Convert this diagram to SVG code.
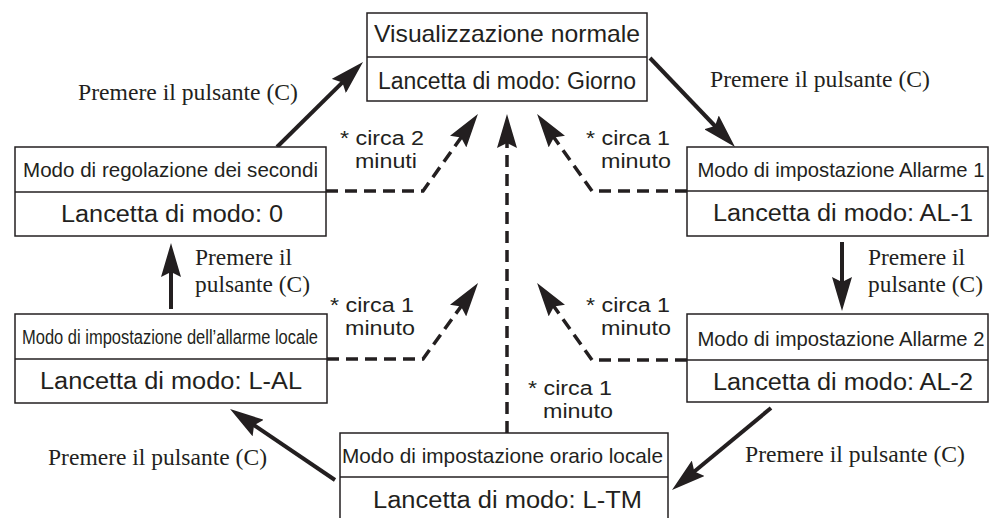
<svg xmlns="http://www.w3.org/2000/svg" width="995" height="518" viewBox="0 0 995 518">
<style>
.box{fill:#fff;stroke:#231f20;stroke-width:1.5}
.div{stroke:#231f20;stroke-width:1.5}
.t{font-family:"Liberation Sans",Arial,sans-serif;fill:#231f20;text-anchor:middle}
.big{font-size:24px}
.lan{font-size:23px}
.mode{font-size:21px}
.lbl{font-family:"Liberation Sans",Arial,sans-serif;font-size:20px;fill:#231f20}
.ser{font-family:"Liberation Serif","Times New Roman",serif;font-size:23px;fill:#231f20}
.solid{fill:none;stroke:#231f20;stroke-width:4;marker-end:url(#ah)}
.dash{fill:none;stroke:#231f20;stroke-width:3.5;stroke-dasharray:12 7;marker-end:url(#ah)}
</style>
<defs>
<marker id="ah" viewBox="0 0 34 20" markerWidth="34" markerHeight="20" refX="14" refY="10" orient="auto" markerUnits="userSpaceOnUse">
<path d="M0,0 L34,10 L0,20 L5,10 z" fill="#231f20"/>
</marker>
</defs>
<rect width="995" height="518" fill="#fff"/>

<g id="connectors">
<path class="solid" d="M277,147 L348.8,76.1"/>
<path class="solid" d="M650,58 L721.2,132.5"/>
<path class="solid" d="M842,242 V291"/>
<path class="solid" d="M171,309 V263"/>
<path class="solid" d="M771,408 L687.4,477.2"/>
<path class="solid" d="M335,480 L246.6,420.2"/>
<path class="dash" d="M326,191 H423 L466.3,130.2"/>
<path class="dash" d="M687,191 H592 L548.7,130.2"/>
<path class="dash" d="M507,433 V134"/>
<path class="dash" d="M327,359 H423 L466.3,299.2"/>
<path class="dash" d="M687,360 H592 L548.7,299.2"/>
</g>

<g id="labels">
<text class="ser" x="78" y="100" textLength="220" lengthAdjust="spacingAndGlyphs">Premere il pulsante (C)</text>
<text class="ser" x="710" y="87" textLength="220" lengthAdjust="spacingAndGlyphs">Premere il pulsante (C)</text>
<text class="ser" x="195" y="265" textLength="97" lengthAdjust="spacingAndGlyphs">Premere il</text>
<text class="ser" x="195" y="292" textLength="115" lengthAdjust="spacingAndGlyphs">pulsante (C)</text>
<text class="ser" x="868" y="265" textLength="97" lengthAdjust="spacingAndGlyphs">Premere il</text>
<text class="ser" x="868" y="292" textLength="115" lengthAdjust="spacingAndGlyphs">pulsante (C)</text>
<text class="ser" x="48" y="465" textLength="219" lengthAdjust="spacingAndGlyphs">Premere il pulsante (C)</text>
<text class="ser" x="745" y="462" textLength="220" lengthAdjust="spacingAndGlyphs">Premere il pulsante (C)</text>
<text class="lbl" x="340" y="145" textLength="84" lengthAdjust="spacingAndGlyphs">* circa 2</text>
<text class="lbl" x="355" y="168" textLength="62" lengthAdjust="spacingAndGlyphs">minuti</text>
<text class="lbl" x="586" y="145" textLength="84" lengthAdjust="spacingAndGlyphs">* circa 1</text>
<text class="lbl" x="601" y="168" textLength="70" lengthAdjust="spacingAndGlyphs">minuto</text>
<text class="lbl" x="330" y="312" textLength="84" lengthAdjust="spacingAndGlyphs">* circa 1</text>
<text class="lbl" x="345" y="335" textLength="70" lengthAdjust="spacingAndGlyphs">minuto</text>
<text class="lbl" x="586" y="312" textLength="84" lengthAdjust="spacingAndGlyphs">* circa 1</text>
<text class="lbl" x="601" y="335" textLength="70" lengthAdjust="spacingAndGlyphs">minuto</text>
<text class="lbl" x="528" y="395" textLength="84" lengthAdjust="spacingAndGlyphs">* circa 1</text>
<text class="lbl" x="543" y="418" textLength="70" lengthAdjust="spacingAndGlyphs">minuto</text>
</g>

<g id="node-normale">
<rect class="box" x="367" y="13" width="280" height="88"/>
<line class="div" x1="367" y1="57" x2="647" y2="57"/>
<text class="t big" x="507" y="42" textLength="266" lengthAdjust="spacingAndGlyphs">Visualizzazione normale</text>
<text class="t lan" x="507" y="89" textLength="258" lengthAdjust="spacingAndGlyphs">Lancetta di modo: Giorno</text>
</g>

<g id="node-secondi">
<rect class="box" x="15" y="147" width="311" height="89"/>
<line class="div" x1="15" y1="192" x2="326" y2="192"/>
<text class="t mode" x="170.5" y="177" textLength="295" lengthAdjust="spacingAndGlyphs">Modo di regolazione dei secondi</text>
<text class="t lan" x="172" y="222" textLength="222" lengthAdjust="spacingAndGlyphs">Lancetta di modo: 0</text>
</g>

<g id="node-allarme1">
<rect class="box" x="687" y="147" width="301" height="89"/>
<line class="div" x1="687" y1="191" x2="988" y2="191"/>
<text class="t mode" x="841" y="177" textLength="287" lengthAdjust="spacingAndGlyphs">Modo di impostazione Allarme 1</text>
<text class="t lan" x="843" y="221" textLength="260" lengthAdjust="spacingAndGlyphs">Lancetta di modo: AL-1</text>
</g>

<g id="node-allarme-locale">
<rect class="box" x="15" y="314" width="312" height="89"/>
<line class="div" x1="15" y1="359" x2="327" y2="359"/>
<text class="t mode" transform="translate(170,344) scale(0.783,1)" x="0" y="0" textLength="378" lengthAdjust="spacingAndGlyphs">Modo di impostazione dell’allarme locale</text>
<text class="t lan" x="171" y="389" textLength="262" lengthAdjust="spacingAndGlyphs">Lancetta di modo: L-AL</text>
</g>

<g id="node-allarme2">
<rect class="box" x="687" y="314" width="301" height="88"/>
<line class="div" x1="687" y1="360" x2="988" y2="360"/>
<text class="t mode" x="841" y="346" textLength="287" lengthAdjust="spacingAndGlyphs">Modo di impostazione Allarme 2</text>
<text class="t lan" x="843" y="390" textLength="260" lengthAdjust="spacingAndGlyphs">Lancetta di modo: AL-2</text>
</g>

<g id="node-orario-locale">
<rect class="box" x="340" y="433" width="328" height="90"/>
<line class="div" x1="340" y1="477" x2="668" y2="477"/>
<text class="t mode" x="502.5" y="463" textLength="321" lengthAdjust="spacingAndGlyphs">Modo di impostazione orario locale</text>
<text class="t lan" x="507.5" y="508" textLength="269" lengthAdjust="spacingAndGlyphs">Lancetta di modo: L-TM</text>
</g>
</svg>
